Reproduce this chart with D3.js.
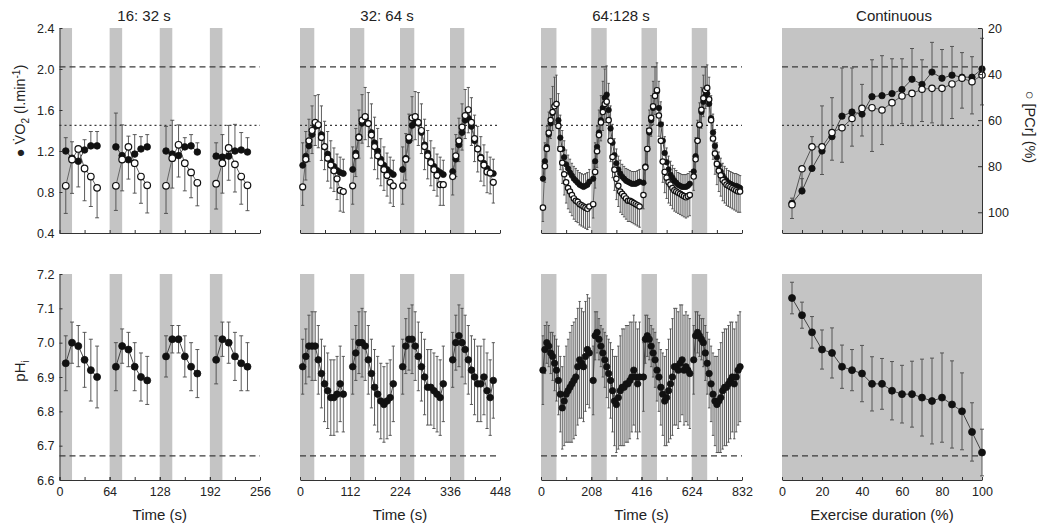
<!DOCTYPE html>
<html><head><meta charset="utf-8">
<script src="https://cdn.jsdelivr.net/npm/d3@7"></script>
<style>
body{margin:0;background:#fff}
text{font-family:"Liberation Sans",Arial,"DejaVu Sans",sans-serif;fill:#222}
</style>
</head><body>
<svg id="c" width="1050" height="531"></svg>
<script>
// ---------------- DATA ----------------
const panelTitles = ["16: 32 s", "32: 64 s", "64:128 s", "Continuous"];
const vo2Ticks = [0.4, 0.8, 1.2, 1.6, 2.0, 2.4];
const pcrTicks = [20, 40, 60, 80, 100];
const phTicks = [6.6, 6.7, 6.8, 6.9, 7.0, 7.1, 7.2];
const p1XTicks = [0, 64, 128, 192, 256];
const p2XTicks = [0, 112, 224, 336, 448];
const p3XTicks = [0, 208, 416, 624, 832];
const p4XTicks = [0, 20, 40, 60, 80, 100];
const refVO2Dashed = 2.02, refVO2Dotted = 1.45, refPhDashed = 6.67;

// Panel 1 (16:32 s), period 64 s, work 16 s
const p1Times = [8, 16, 24, 32, 40, 48];
const p1Period = 64, p1Work = 16;
const p1VO2 = [[1.20,1.13,1.10,1.21,1.25,1.25],[1.24,1.155,1.115,1.17,1.22,1.24],[1.20,1.17,1.155,1.24,1.25,1.19],[1.15,1.14,1.15,1.20,1.21,1.19]];
const p1VO2sd = [[0.13,0.16,0.14,0.10,0.14,0.14],[0.33,0.30,0.23,0.19,0.12,0.12],[0.24,0.33,0.30,0.09,0.11,0.09],[0.13,0.22,0.30,0.26,0.17,0.14]];
const p1PCr = [[88.5,77.1,72.5,81.0,84.5,89.4],[88.5,77.1,71.6,78.7,84.5,88.3],[88.5,76.5,70.7,78.7,82.7,87.2],[87.6,78.7,72.1,79.2,84.5,88.3]];
const p1PCrsd = [[12,14.7,16.5,14,13,13],[10.7,13.6,14,13,11.6,12],[12,13,14,12,11,10],[11,13,14,12,12,11]];
const p1pH = [[6.94,7.00,6.99,6.95,6.92,6.90],[6.93,6.99,6.98,6.93,6.90,6.89],[6.96,7.01,7.01,6.96,6.93,6.91],[6.95,7.01,7.00,6.96,6.94,6.93]];
const p1pHsd = [[0.08,0.06,0.06,0.08,0.09,0.09],[0.07,0.05,0.05,0.07,0.07,0.07],[0.06,0.04,0.04,0.06,0.07,0.07],[0.07,0.05,0.06,0.07,0.08,0.07]];

// Panel 2 (32:64 s), period 112 s, work 32 s
const p2Times = [6, 13, 20, 27, 34, 41, 48, 55, 62, 69, 76, 83, 90, 97];
const p2Period = 112, p2Work = 32;
const p2VO2 = [
 [1.06,1.15,1.25,1.36,1.44,1.45,1.36,1.24,1.17,1.10,1.05,1.01,0.99,0.98],
 [1.02,1.18,1.34,1.47,1.52,1.47,1.38,1.28,1.20,1.12,1.06,1.02,0.99,0.97],
 [1.02,1.13,1.30,1.45,1.48,1.47,1.38,1.26,1.18,1.10,1.05,1.01,0.99,0.97],
 [1.00,1.12,1.26,1.38,1.50,1.52,1.44,1.30,1.22,1.14,1.08,1.03,0.99,0.98]];
const p2VO2sd = [0.22,0.24,0.26,0.28,0.30,0.30,0.28,0.25,0.22,0.20,0.18,0.16,0.15,0.14];
const p2PCr = [
 [89,77,69,64.5,61,62,67.5,71.5,76.5,79.5,82,85.5,90.5,91],
 [88.5,75.5,67.5,60,58.5,61.5,66.5,71.5,75.5,78.5,81.5,84,87,88.5],
 [88.5,77,67.5,59,58.5,61,64.5,71.5,75.5,78.5,81.5,84,88,88],
 [84.5,75.5,69,63,58,55.5,61,68,72.5,76.5,79.5,82.5,83,87]];
const p2PCrsd = [8,9,9,10,10,10,10,10,10,10,9,9,9,9];
const p2pH = [
 [6.93,6.96,6.99,6.99,6.99,6.95,6.91,6.88,6.86,6.84,6.84,6.85,6.88,6.85],
 [6.93,6.97,7.00,7.00,6.99,6.95,6.91,6.87,6.85,6.83,6.82,6.83,6.84,6.88],
 [6.93,6.99,7.01,7.01,6.99,6.96,6.93,6.90,6.87,6.87,6.86,6.85,6.84,6.88],
 [6.95,7.00,7.02,7.00,6.98,6.95,6.92,6.90,6.88,6.88,6.90,6.86,6.84,6.89]];
const p2pHsd = [0.08,0.08,0.09,0.10,0.10,0.10,0.10,0.11,0.11,0.11,0.11,0.11,0.11,0.11];

// Panel 3 (64:128 s), period 208 s, work 64 s
const p3Times = [8,16,24,32,40,48,56,64,72,80,88,96,104,112,120,128,136,144,152,160,168,176,184,192,200];
const p3Period = 208, p3Work = 64;
const p3VO2 = [
 [0.93,1.10,1.24,1.36,1.47,1.57,1.64,1.66,1.50,1.33,1.22,1.14,1.07,1.03,0.99,0.96,0.93,0.91,0.89,0.87,0.86,0.85,0.86,0.87,0.90],
 [0.93,1.10,1.24,1.38,1.50,1.62,1.72,1.75,1.60,1.42,1.28,1.16,1.08,1.02,0.98,0.95,0.93,0.91,0.90,0.89,0.88,0.88,0.88,0.89,0.90],
 [0.89,1.05,1.22,1.38,1.50,1.62,1.74,1.78,1.62,1.46,1.30,1.18,1.09,1.02,0.97,0.94,0.91,0.89,0.87,0.86,0.85,0.85,0.85,0.86,0.88],
 [1.00,1.15,1.30,1.45,1.58,1.68,1.74,1.76,1.66,1.52,1.38,1.25,1.14,1.06,1.00,0.96,0.93,0.91,0.89,0.88,0.87,0.86,0.86,0.85,0.84]];
const p3VO2sd = [0.15,0.18,0.20,0.22,0.24,0.26,0.28,0.28,0.26,0.22,0.18,0.16,0.14,0.13,0.13,0.12,0.12,0.12,0.12,0.12,0.12,0.12,0.12,0.12,0.12];
const p3PCr = [
 [98,80,72.5,65.5,60,56.5,54,53,62.5,72.5,78.5,83.5,87,89.5,91,92.5,94,95,95.5,96.5,97,97.5,98,98.5,97.5],
 [96.5,82.5,73.5,66.5,61,56.5,53,52,60,69,76,81.5,85.5,88.5,91,92,93,94,95,95,95.5,96,96.5,97,97.5],
 [92.5,80.5,72.5,64.5,59,54,49.5,47,58,69,78,82.5,85,87,88,89.5,90.5,91,91.5,92,92.5,93,93.5,93,92.5],
 [84.5,77,69,62,55.5,50.5,47,46,51,60,68,74.5,79,82,84,86,87,88,88.5,89,89.5,90,90.5,91,91]];
const p3PCrsd = [6,7,7,7,8,8,8,8,9,9,9,9,9,9,9,9,9,9,9,9,9,9,9,9,9];
const p3pH = [
 [6.92,6.98,7.00,6.99,6.97,6.96,6.94,6.92,6.89,6.85,6.81,6.83,6.85,6.86,6.87,6.88,6.89,6.90,6.93,6.95,6.94,6.93,6.96,6.98,6.97],
 [6.89,7.02,7.03,7.01,6.99,6.97,6.95,6.93,6.91,6.89,6.86,6.83,6.82,6.84,6.86,6.87,6.87,6.88,6.88,6.89,6.90,6.92,6.90,6.88,6.90],
 [6.90,7.01,7.02,7.01,6.99,6.97,6.95,6.92,6.90,6.87,6.85,6.83,6.84,6.86,6.88,6.90,6.93,6.93,6.92,6.94,6.95,6.92,6.93,6.92,6.91],
 [6.95,7.02,7.03,7.02,7.01,7.00,6.97,6.94,6.91,6.88,6.85,6.83,6.82,6.83,6.84,6.86,6.87,6.87,6.88,6.89,6.90,6.88,6.90,6.92,6.93]];
const p3pHsd = [0.10,0.07,0.06,0.06,0.06,0.07,0.08,0.09,0.10,0.11,0.12,0.13,0.14,0.15,0.16,0.17,0.17,0.17,0.17,0.17,0.16,0.16,0.16,0.16,0.16];

// Panel 4 (continuous), exercise duration %
const p4X = [5,10,15,20,25,30,35,40,45,50,55,60,65,70,75,80,85,90,95,100];
const p4VO2 = [0.69,0.81,1.03,1.20,1.34,1.54,1.58,1.56,1.73,1.74,1.76,1.80,1.90,1.85,1.97,1.91,1.94,1.92,1.92,2.00];
const p4VO2sd = [0.05,0.12,0.31,0.44,0.38,0.47,0.43,0.29,0.36,0.39,0.34,0.30,0.30,0.24,0.29,0.28,0.28,0.24,0.20,0.30];
const p4PCr = [96.7,81.1,71.6,71.6,65.4,63.3,59.3,54.9,54.6,55.6,52.4,49.5,48.4,46.6,46.2,46.2,44.3,41.8,43.3,40.4];
const p4PCrsd = [6,8,10,12,12,15,12,12,19,15,10,12,14,14,15,16,15,13,14,13];
const p4pH = [7.13,7.08,7.03,6.98,6.97,6.93,6.92,6.91,6.88,6.88,6.86,6.85,6.85,6.84,6.83,6.84,6.82,6.80,6.74,6.68];
const p4pHsd = [0.046,0.038,0.046,0.057,0.073,0.063,0.06,0.082,0.079,0.074,0.085,0.084,0.096,0.112,0.125,0.13,0.127,0.112,0.085,0.068];

// ---------------- DRAW ----------------
const svg = d3.select("#c");
const TOP = [28, 233], BOT = [274, 480];
const GRAY = "#c4c4c4", AX = "#333", LN = "#444", WH = "#4a4a4a";
const yV = d3.scaleLinear().domain([0.4, 2.4]).range([TOP[1], TOP[0]]);
const yP = d3.scaleLinear().domain([20, 109]).range([TOP[0], TOP[1]]);
const yH = d3.scaleLinear().domain([6.6, 7.2]).range([BOT[1], BOT[0]]);
const x1 = d3.scaleLinear().domain([0, 256]).range([59.5, 260]);
const x2 = d3.scaleLinear().domain([0, 448]).range([300, 500]);
const x3 = d3.scaleLinear().domain([0, 832]).range([541, 742]);
const x4 = d3.scaleLinear().domain([0, 100]).range([782, 982]);

const layerBg = svg.append("g"), layerRef = svg.append("g"), layerWh = svg.append("g"),
      layerLn = svg.append("g"), layerPt = svg.append("g"), layerAx = svg.append("g");

function bgBars(x, period, work) {
  for (let c = 0; c < 4; c++) {
    [TOP, BOT].forEach(r => {
      layerBg.append("rect").attr("x", x(c * period)).attr("width", x(c * period + work) - x(c * period))
        .attr("y", r[0]).attr("height", r[1] - r[0]).attr("fill", GRAY);
    });
  }
}
function hline(x, y, dash, w) {
  const [a, b] = x.range();
  layerRef.append("line").attr("x1", a).attr("x2", b).attr("y1", y).attr("y2", y)
    .attr("stroke", "#3a3a3a").attr("stroke-width", w).attr("stroke-dasharray", dash);
}
function refLines(x) {
  hline(x, yV(refVO2Dashed), "6,4", 1.3);
  hline(x, yV(refVO2Dotted), "2,3", 1.2);
  hline(x, yH(refPhDashed), "6,4", 1.3);
}
function series(x, y, pts, mode, r, cap, filled, lineCol) {
  pts.forEach(d => {
    const y1 = mode === "sym" ? y(d.v - d.sd) : y(d.v), y2 = y(d.v + d.sd);
    layerWh.append("line").attr("x1", x(d.t)).attr("x2", x(d.t)).attr("y1", y1).attr("y2", y2)
      .attr("stroke", WH).attr("stroke-width", 0.9);
    const caps = mode === "sym" ? [y1, y2] : [y2];
    caps.forEach(cy => layerWh.append("line").attr("x1", x(d.t) - cap).attr("x2", x(d.t) + cap)
      .attr("y1", cy).attr("y2", cy).attr("stroke", WH).attr("stroke-width", 0.9));
  });
  layerLn.append("path").attr("d", d3.line().x(d => x(d.t)).y(d => y(d.v))(pts))
    .attr("fill", "none").attr("stroke", lineCol || LN).attr("stroke-width", 1);
  const g = layerPt.append("g");
  g.selectAll("circle").data(pts).join("circle").attr("cx", d => x(d.t)).attr("cy", d => y(d.v)).attr("r", r)
    .attr("fill", filled ? "#111" : "#fff").attr("stroke", "#111").attr("stroke-width", filled ? 0.8 : 1.2);
}
function cyclePanel(x, times, period, work, vo2, vo2sd, pcr, pcrsd, ph, phsd, r, rph, cap) {
  bgBars(x, period, work);
  refLines(x);
  const sdAt = (arr, c, i) => Array.isArray(arr[0]) ? arr[c][i] : arr[i];
  for (let c = 0; c < 4; c++) {
    const off = c * period;
    series(x, yV, times.map((t, i) => ({t: off + t, v: vo2[c][i], sd: sdAt(vo2sd, c, i)})), "up", r, cap, true);
  }
  for (let c = 0; c < 4; c++) {
    const off = c * period;
    series(x, yP, times.map((t, i) => ({t: off + t, v: pcr[c][i], sd: sdAt(pcrsd, c, i)})), "up", r, cap, false, "#666");
  }
  for (let c = 0; c < 4; c++) {
    const off = c * period;
    series(x, yH, times.map((t, i) => ({t: off + t, v: ph[c][i], sd: sdAt(phsd, c, i)})), "sym", rph, cap, true);
  }
}

cyclePanel(x1, p1Times, p1Period, p1Work, p1VO2, p1VO2sd, p1PCr, p1PCrsd, p1pH, p1pHsd, 3.3, 3.5, 2);
cyclePanel(x2, p2Times, p2Period, p2Work, p2VO2, p2VO2sd, p2PCr, p2PCrsd, p2pH, p2pHsd, 3.0, 3.3, 1.6);
cyclePanel(x3, p3Times, p3Period, p3Work, p3VO2, p3VO2sd, p3PCr, p3PCrsd, p3pH, p3pHsd, 2.7, 3.2, 1.2);

// panel 4
[TOP, BOT].forEach(r => layerBg.append("rect").attr("x", x4.range()[0]).attr("width", x4.range()[1] - x4.range()[0])
  .attr("y", r[0]).attr("height", r[1] - r[0]).attr("fill", GRAY));
refLines(x4);
series(x4, yV, p4X.map((t, i) => ({t, v: p4VO2[i], sd: p4VO2sd[i]})), "up", 3.2, 2, true);
series(x4, yP, p4X.map((t, i) => ({t, v: p4PCr[i], sd: p4PCrsd[i]})), "up", 3.2, 2, false, "#555");
series(x4, yH, p4X.map((t, i) => ({t, v: p4pH[i], sd: p4pHsd[i]})), "sym", 3.5, 2, true);

// ---------------- AXES ----------------
function styleAxis(g, fs) {
  g.selectAll(".domain").attr("stroke", AX);
  g.selectAll(".tick line").attr("stroke", AX);
  g.selectAll(".tick text").attr("font-size", fs).attr("fill", "#222")
    .attr("font-family", '"Liberation Sans",Arial,sans-serif');
}
function xAxis(x, y, majors, step, labels) {
  const minors = d3.range(x.domain()[0], x.domain()[1] + 0.001, step);
  const gm = layerAx.append("g").attr("transform", `translate(0,${y})`)
    .call(d3.axisBottom(x).tickValues(minors).tickSizeInner(-3).tickSizeOuter(0).tickFormat(""));
  styleAxis(gm, 12);
  if (labels) {
    const g = layerAx.append("g").attr("transform", `translate(0,${y})`)
      .call(d3.axisBottom(x).tickValues(majors).tickSizeInner(-3).tickSizeOuter(0).tickPadding(7).tickFormat(d3.format("d")));
    styleAxis(g, 12.5);
    g.select(".domain").remove();
  }
}
xAxis(x1, TOP[1], p1XTicks, 32, false); xAxis(x1, BOT[1], p1XTicks, 32, true);
xAxis(x2, TOP[1], p2XTicks, 56, false); xAxis(x2, BOT[1], p2XTicks, 56, true);
xAxis(x3, TOP[1], p3XTicks, 104, false); xAxis(x3, BOT[1], p3XTicks, 104, true);
xAxis(x4, TOP[1], p4XTicks, 10, false); xAxis(x4, BOT[1], p4XTicks, 10, true);

const gl = layerAx.append("g").attr("transform", `translate(${x1.range()[0]},0)`)
  .call(d3.axisLeft(yV).tickValues(vo2Ticks).tickSizeInner(-3).tickSizeOuter(0).tickPadding(5).tickFormat(d3.format(".1f")));
styleAxis(gl, 12.5);
const gh = layerAx.append("g").attr("transform", `translate(${x1.range()[0]},0)`)
  .call(d3.axisLeft(yH).tickValues(phTicks).tickSizeInner(-3).tickSizeOuter(0).tickPadding(5).tickFormat(d3.format(".1f")));
styleAxis(gh, 12.5);
const gr = layerAx.append("g").attr("transform", `translate(${x4.range()[1]},0)`)
  .call(d3.axisRight(yP).tickValues(pcrTicks).tickSizeInner(-4).tickSizeOuter(0).tickPadding(6).tickFormat(d3.format("d")));
styleAxis(gr, 12.5);

// ---------------- TEXT ----------------
const titleX = [144, 387, 621, 894];
panelTitles.forEach((t, i) => svg.append("text").attr("x", titleX[i]).attr("y", 21)
  .attr("text-anchor", "middle").attr("font-size", 15).text(t));

const xl = [[x1, "Time (s)"], [x2, "Time (s)"], [x3, "Time (s)"], [x4, "Exercise duration (%)"]];
xl.forEach(([x, t]) => svg.append("text").attr("x", (x.range()[0] + x.range()[1]) / 2).attr("y", 520)
  .attr("text-anchor", "middle").attr("font-size", 15).text(t));

// left VO2 label
const lt = svg.append("text").attr("transform", "translate(25,111) rotate(-90)").attr("text-anchor", "middle").attr("font-size", 14.5);
lt.append("tspan").text("\u25CF  V\u0307O");
lt.append("tspan").attr("dy", 4).attr("font-size", 10).text("2");
lt.append("tspan").attr("dy", -4).text(" (l.min");
lt.append("tspan").attr("dy", -5).attr("font-size", 10).text("-1");
lt.append("tspan").attr("dy", 5).text(")");

// pHi label
const ph = svg.append("text").attr("transform", "translate(25,371) rotate(-90)").attr("text-anchor", "middle").attr("font-size", 15);
ph.append("tspan").text("pH");
ph.append("tspan").attr("dy", 4).attr("font-size", 10).text("i");

// right PCr label
svg.append("text").attr("transform", "translate(1025,127) rotate(90)").attr("text-anchor", "middle")
  .attr("font-size", 14.5).text("\u25CB  [PCr] (%)");
</script>
</body></html>
